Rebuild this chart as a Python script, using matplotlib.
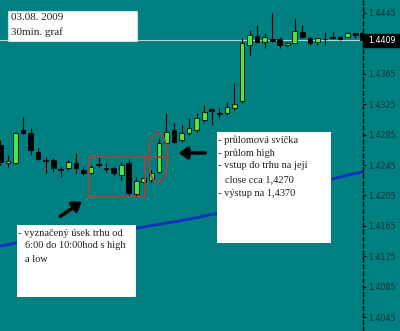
import numpy as np
import matplotlib
matplotlib.use('Agg')
import matplotlib.pyplot as plt
from matplotlib.patches import Rectangle, Ellipse, FancyArrowPatch

# EURUSD 30 min svicky (open, high, low, close)
opens  = [1.4271, 1.4248, 1.4248, 1.4291, 1.4287, 1.4262, 1.4252, 1.4252, 1.4240, 1.4241,
          1.4248, 1.4238, 1.4234, 1.4246, 1.4241, 1.4241, 1.4232, 1.4248, 1.4207, 1.4223,
          1.4225, 1.4236, 1.4274, 1.4291, 1.4278, 1.4287, 1.4291, 1.4304, 1.4319, 1.4313,
          1.4313, 1.4320, 1.4329, 1.4403, 1.4415, 1.4407, 1.4411, 1.4411, 1.4403, 1.4406,
          1.4420, 1.4412, 1.4407, 1.4411, 1.4413, 1.4413, 1.4413, 1.4419, 1.4419]
highs  = [1.4278, 1.4258, 1.4288, 1.4308, 1.4294, 1.4267, 1.4256, 1.4254, 1.4242, 1.4252,
          1.4261, 1.4242, 1.4245, 1.4255, 1.4248, 1.4242, 1.4249, 1.4253, 1.4229, 1.4232,
          1.4238, 1.4281, 1.4313, 1.4300, 1.4298, 1.4307, 1.4313, 1.4324, 1.4320, 1.4320,
          1.4328, 1.4353, 1.4412, 1.4423, 1.4429, 1.4419, 1.4445, 1.4413, 1.4407, 1.4438,
          1.4429, 1.4413, 1.4412, 1.4420, 1.4420, 1.4415, 1.4420, 1.4419, 1.4420]
lows   = [1.4245, 1.4242, 1.4246, 1.4286, 1.4258, 1.4252, 1.4234, 1.4236, 1.4229, 1.4238,
          1.4234, 1.4232, 1.4233, 1.4242, 1.4236, 1.4232, 1.4225, 1.4206, 1.4203, 1.4216,
          1.4223, 1.4234, 1.4271, 1.4274, 1.4275, 1.4284, 1.4288, 1.4302, 1.4298, 1.4308,
          1.4311, 1.4317, 1.4327, 1.4390, 1.4406, 1.4399, 1.4407, 1.4399, 1.4402, 1.4406,
          1.4412, 1.4403, 1.4403, 1.4403, 1.4411, 1.4409, 1.4412, 1.4412, 1.4409]
closes = [1.4249, 1.4250, 1.4287, 1.4287, 1.4265, 1.4253, 1.4250, 1.4241, 1.4238, 1.4249,
          1.4241, 1.4234, 1.4242, 1.4245, 1.4240, 1.4234, 1.4245, 1.4208, 1.4224, 1.4228,
          1.4234, 1.4274, 1.4288, 1.4275, 1.4287, 1.4294, 1.4307, 1.4315, 1.4316, 1.4312,
          1.4321, 1.4325, 1.4406, 1.4416, 1.4407, 1.4413, 1.4408, 1.4403, 1.4406, 1.4421,
          1.4413, 1.4406, 1.4412, 1.4411, 1.4412, 1.4411, 1.4419, 1.4416, 1.4409]

# klouzavy prumer (modra cara)
ma = [1.41384, 1.41404, 1.41424, 1.41443, 1.41457, 1.41470, 1.41483, 1.41489, 1.41503, 1.41516,
      1.41529, 1.41535, 1.41549, 1.41562, 1.41575, 1.41582, 1.41595, 1.41608, 1.41621, 1.41634,
      1.41654, 1.41667, 1.41687, 1.41700, 1.41720, 1.41739, 1.41759, 1.41779, 1.41799, 1.41818,
      1.41845, 1.41871, 1.41897, 1.41924, 1.41950, 1.41983, 1.42016, 1.42049, 1.42082, 1.42114,
      1.42147, 1.42180, 1.42213, 1.42239, 1.42266, 1.42292, 1.42318, 1.42338, 1.42358]

ytick_vals = [1.4045, 1.4085, 1.4125, 1.4165, 1.4205, 1.4245, 1.4285, 1.4325, 1.4365, 1.4445]
last_price = 1.4409
range_first, range_last = 12, 19   # 6:00 - 10:00
breakout_bar = 21

title_lines = ['03.08. 2009', '30min. graf']
note_right = ['- průlomová svíčka', '- průlom high', '- vstup do trhu na její',
              'close cca 1,4270', '- výstup na 1,4370']
note_left = ['- vyznačený úsek trhu od', '6:00 do 10:00hod s high', 'a low']

teal = '#008080'
bull = '#48e848'
red = '#a0463c'

fig = plt.figure(figsize=(4.0, 3.31), dpi=100, facecolor=teal)
ax = fig.add_axes([0, 0, 363 / 400, 1])
ax.set_facecolor(teal)

n = len(opens)
x = np.arange(n)
ax.set_xlim(-0.05, 48.03)
ax.set_ylim(1.40266, 1.44621)

# price line
ax.axhline(last_price, color='#b8d0d0', lw=0.8, zorder=1)

# moving average
ax.plot(x, ma, color='#1030c0', lw=2, zorder=2)

# candles
for i in range(n):
    o, h, l, c = opens[i], highs[i], lows[i], closes[i]
    ax.vlines(i, l, h, color='black', lw=0.8, zorder=3)
    fill = bull if c >= o else 'black'
    ax.bar(i, abs(c - o), bottom=min(o, c), width=0.62, color=fill,
           edgecolor='black', linewidth=0.6, zorder=4)

# usek 6:00 - 10:00
r_hi = max(highs[range_first:range_last + 1])
r_lo = min(lows[range_first:range_last + 1])
ax.add_patch(Rectangle((range_first - 0.3, r_lo), range_last - range_first + 0.5, r_hi - r_lo,
                       fill=False, edgecolor=red, lw=1.3, zorder=5))
ax.hlines(r_hi, range_last + 0.2, breakout_bar + 1.2, color=red, lw=1.3, zorder=5)

# osa vpravo
for s in ['top', 'left', 'bottom']:
    ax.spines[s].set_visible(False)
ax.spines['right'].set_linestyle((0, (3, 2)))
ax.spines['right'].set_color('black')
ax.spines['right'].set_linewidth(1)
ax.set_xticks([])
ax.yaxis.tick_right()
ax.set_yticks(ytick_vals)
ax.set_yticklabels(['%.4f' % v for v in ytick_vals])
ax.tick_params(axis='y', length=2.5, width=0.8, color='black', pad=1.5,
               labelsize=5.8, labelcolor='#0a3535')

# overlay v pixelech
ov = fig.add_axes([0, 0, 1, 1])
ov.set_xlim(0, 400)
ov.set_ylim(331, 0)
ov.axis('off')
ov.patch.set_alpha(0)

serif = 'Liberation Serif'

# aktualni cena
ov.add_patch(Rectangle((363, 34), 37, 13, color='black', zorder=5))
ov.text(368, 40.5, '%.4f' % last_price, color='white', fontsize=5.8, va='center', zorder=6)

# titulek
ov.add_patch(Rectangle((8, 11), 129, 30, facecolor='white', edgecolor='#c8e0e0', lw=0.8, zorder=5))
for k, t in enumerate(title_lines):
    ov.text(11, 17 + 15 * k, t, family=serif, fontsize=8, va='center', zorder=6, color='#202020')

# elipsa kolem prulomove svicky
ov.add_patch(Ellipse((158, 158), 19, 50, fill=False, edgecolor=red, lw=1.3, zorder=5))

# sipky
ov.add_patch(FancyArrowPatch((208, 153), (176, 153), arrowstyle='-|>,head_length=5,head_width=3.5',
                             color='black', lw=2.5, zorder=6))
ov.add_patch(FancyArrowPatch((58, 218), (84, 200), arrowstyle='-|>,head_length=5,head_width=3.5',
                             color='black', lw=2.5, zorder=6))

# poznamka vpravo
ov.add_patch(Rectangle((217, 132), 114, 111, facecolor='white', edgecolor='none', zorder=5))
ys = [140, 153, 166, 180, 194]
for t, yy in zip(note_right, ys):
    xx = 225 if not t.startswith('-') else 218
    ov.text(xx, yy, t, family=serif, fontsize=7.5, va='center', zorder=6, color='#202020')

# poznamka vlevo
ov.add_patch(Rectangle((17, 225), 119, 72, facecolor='white', edgecolor='none', zorder=5))
ys = [233, 246, 259]
for t, yy in zip(note_left, ys):
    xx = 25 if not t.startswith('-') else 18
    ov.text(xx, yy, t, family=serif, fontsize=7.5, va='center', zorder=6, color='#202020')

fig.savefig('out.png', dpi=100, facecolor=teal)
